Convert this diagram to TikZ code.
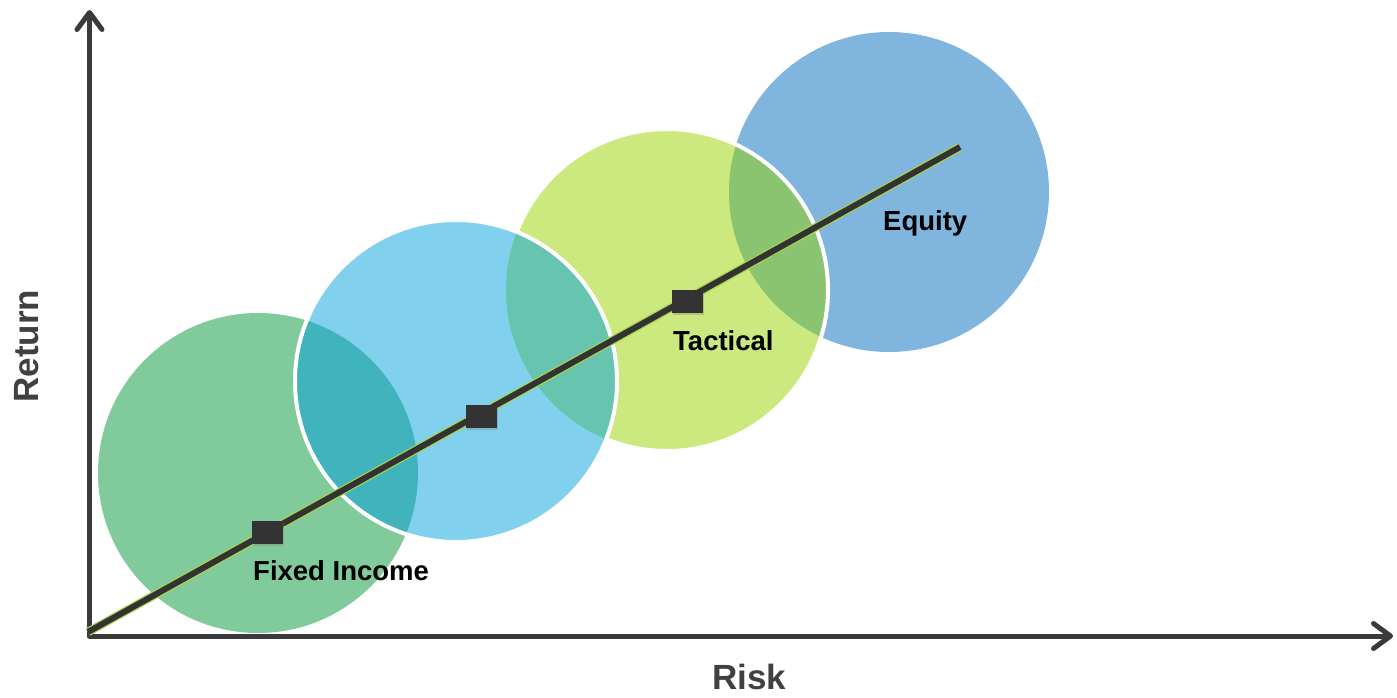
\documentclass[tikz,border=0pt]{standalone}
\usepackage{fontspec}
\setmainfont{Liberation Sans}
\usetikzlibrary{arrows.meta,shadows}
\definecolor{cgreen}{HTML}{81CA9C}
\definecolor{cblue}{HTML}{80D0EE}
\definecolor{clime}{HTML}{CBE97F}
\definecolor{cequity}{HTML}{80B5DD}
\definecolor{ogb}{HTML}{41B3BD}
\definecolor{obl}{HTML}{66C4AF}
\definecolor{ole}{HTML}{8BC470}
\definecolor{axisgray}{HTML}{3A3A3A}
\definecolor{linegray}{HTML}{333333}
\definecolor{glow}{HTML}{A8D44E}
\definecolor{labelgray}{HTML}{404040}
\tikzset{
  axisline/.style={draw=axisgray,line width=5pt,line cap=round,
    -{Straight Barb[length=17pt,width=25pt,line width=5pt,round]}},
  marker/.style={fill=linegray,minimum width=31pt,minimum height=23pt,inner sep=0pt,
    drop shadow={shadow xshift=1.5pt,shadow yshift=-2pt,opacity=0.35}},
  lbl/.style={anchor=base west,inner sep=0pt,font=\fontsize{27.5}{30}\selectfont\bfseries,text=black},
  axlbl/.style={inner sep=0pt,font=\fontsize{35}{38}\selectfont\bfseries,text=labelgray},
  ring/.style={draw=white,line width=4pt}
}
\begin{document}
\begin{tikzpicture}[x=1pt,y=-1pt]
\useasboundingbox (0,0) rectangle (1397,697);
% circles
\fill[cgreen] (258,473) circle[radius=160pt];
\fill[cequity] (889,192) circle[radius=160pt];
\fill[clime] (667,290) circle[radius=161pt];
\begin{scope}
  \clip (667,290) circle[radius=161pt];
  \fill[ole] (889,192) circle[radius=160pt];
\end{scope}
\draw[ring] (667,290) circle[radius=161pt];
\fill[cblue] (456,381) circle[radius=161pt];
\begin{scope}
  \clip (456,381) circle[radius=161pt];
  \fill[ogb] (258,473) circle[radius=160pt];
  \fill[obl] (667,290) circle[radius=161pt];
\end{scope}
\draw[ring] (456,381) circle[radius=161pt];
% axes
\coordinate (O) at (89.5,636);
\coordinate (ytip) at (89.5,10);
\coordinate (xtip) at (1393,636);
\draw[axisline] (O) -- (ytip);
\draw[axisline] (O) -- (xtip);
% trend line
\coordinate (L0) at (88,632);
\coordinate (L1) at (960,147);
\draw[glow,line width=8.5pt] (L0) -- (L1);
\draw[linegray,line width=6pt] (L0) -- (L1);
\node[marker] (s1) at (267,532) {};
\node[marker] (s2) at (481,416) {};
\node[marker] (s3) at (687,301) {};
% labels
\node[lbl] (fi) at (253,580) {Fixed Income};
\node[lbl] (ta) at (673,350) {Tactical};
\node[lbl] (eq) at (883,230) {Equity};
\node[axlbl,anchor=base] (risk) at (749,689) {Risk};
\node[axlbl,rotate=90] (ret) at (27,346) {Return};
\end{tikzpicture}
\end{document}
